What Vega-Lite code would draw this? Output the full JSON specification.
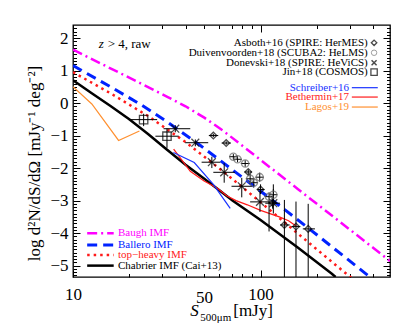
{
  "$schema": "https://vega.github.io/schema/vega-lite/v6.json",
  "width": 317,
  "height": 252,
  "autosize": "none",
  "padding": {"left": 73, "top": 25, "right": 17, "bottom": 49},
  "background": "white",
  "view": {"stroke": "black", "strokeWidth": 1.3},
  "config": {
    "axis": {"domain": false, "grid": false, "tickColor": "black", "tickWidth": 1, "labelFont": "Liberation Serif", "labelFontSize": 17, "labelColor": "black", "titleFont": "Liberation Serif", "titleFontSize": 17, "titleFontWeight": "normal", "titleColor": "black", "labelOverlap": false, "labelFlush": false},
    "text": {"font": "Liberation Serif", "fontSize": 11}
  },
  "datasets": {
    "curves": [
      {"m": "Baugh", "S": 10, "v": 1.64}, {"m": "Baugh", "S": 19.95, "v": 0.78}, {"m": "Baugh", "S": 31.62, "v": 0.2}, {"m": "Baugh", "S": 39.81, "v": -0.1}, {"m": "Baugh", "S": 50.12, "v": -0.45}, {"m": "Baugh", "S": 63.1, "v": -0.85}, {"m": "Baugh", "S": 79.43, "v": -1.3}, {"m": "Baugh", "S": 100, "v": -1.75}, {"m": "Baugh", "S": 125.9, "v": -2.2}, {"m": "Baugh", "S": 158.5, "v": -2.65}, {"m": "Baugh", "S": 199.5, "v": -3.1}, {"m": "Baugh", "S": 251.2, "v": -3.55}, {"m": "Baugh", "S": 316.2, "v": -4.0}, {"m": "Baugh", "S": 398.1, "v": -4.45}, {"m": "Baugh", "S": 490, "v": -4.86},
      {"m": "Ballero", "S": 10, "v": 1.15}, {"m": "Ballero", "S": 15.85, "v": 0.5}, {"m": "Ballero", "S": 22.9, "v": -0.04}, {"m": "Ballero", "S": 31.62, "v": -0.57}, {"m": "Ballero", "S": 47.6, "v": -1.3}, {"m": "Ballero", "S": 79.4, "v": -2.27}, {"m": "Ballero", "S": 125.9, "v": -3.15}, {"m": "Ballero", "S": 199.5, "v": -4.05}, {"m": "Ballero", "S": 281.8, "v": -4.74}, {"m": "Ballero", "S": 389, "v": -5.38},
      {"m": "TopHeavy", "S": 10, "v": 0.95}, {"m": "TopHeavy", "S": 15.85, "v": 0.3}, {"m": "TopHeavy", "S": 25.12, "v": -0.4}, {"m": "TopHeavy", "S": 39.81, "v": -1.2}, {"m": "TopHeavy", "S": 63.1, "v": -2.1}, {"m": "TopHeavy", "S": 100, "v": -3.05}, {"m": "TopHeavy", "S": 158.5, "v": -4.02}, {"m": "TopHeavy", "S": 251.2, "v": -4.98}, {"m": "TopHeavy", "S": 316.2, "v": -5.45},
      {"m": "Chabrier", "S": 10, "v": 0.7}, {"m": "Chabrier", "S": 12.59, "v": 0.3}, {"m": "Chabrier", "S": 15.85, "v": -0.09}, {"m": "Chabrier", "S": 19.95, "v": -0.5}, {"m": "Chabrier", "S": 25.12, "v": -0.95}, {"m": "Chabrier", "S": 31.62, "v": -1.43}, {"m": "Chabrier", "S": 39.81, "v": -1.9}, {"m": "Chabrier", "S": 50.12, "v": -2.33}, {"m": "Chabrier", "S": 60.26, "v": -2.68}, {"m": "Chabrier", "S": 70.8, "v": -3.0}, {"m": "Chabrier", "S": 100, "v": -3.6}, {"m": "Chabrier", "S": 158.5, "v": -4.45}, {"m": "Chabrier", "S": 239.9, "v": -5.25}, {"m": "Chabrier", "S": 251.2, "v": -5.35},
      {"m": "Bethermin", "S": 34.4, "v": -1.42}, {"m": "Bethermin", "S": 38, "v": -1.75}, {"m": "Bethermin", "S": 42.2, "v": -2.1}, {"m": "Bethermin", "S": 50, "v": -2.4}, {"m": "Bethermin", "S": 58.9, "v": -2.62}, {"m": "Bethermin", "S": 66, "v": -2.85}, {"m": "Bethermin", "S": 74, "v": -3.0}, {"m": "Bethermin", "S": 85, "v": -3.13}, {"m": "Bethermin", "S": 100, "v": -3.3}, {"m": "Bethermin", "S": 125.9, "v": -3.5}, {"m": "Bethermin", "S": 141, "v": -3.62}, {"m": "Bethermin", "S": 156, "v": -3.8},
      {"m": "Schreiber", "S": 34.3, "v": -1.52}, {"m": "Schreiber", "S": 44.3, "v": -1.83}, {"m": "Schreiber", "S": 56, "v": -2.5}, {"m": "Schreiber", "S": 68.9, "v": -3.24},
      {"m": "Lagos", "S": 10, "v": 0.5}, {"m": "Lagos", "S": 12.6, "v": -0.03}, {"m": "Lagos", "S": 17.5, "v": -1.15}, {"m": "Lagos", "S": 22.6, "v": -0.86}
    ],
    "pts": [
      {"src": "Jin", "S": 23.8, "v": -0.51, "xlo": 19.8, "xhi": 28.1, "ylo": -0.71, "yhi": -0.33},
      {"src": "Jin", "S": 31.7, "v": -1.02, "xlo": 27.5, "xhi": 36.6, "ylo": -1.38, "yhi": -0.78},
      {"src": "Donevski", "S": 35.1, "v": -0.79, "xlo": 30.4, "xhi": 42.2, "ylo": -0.9, "yhi": -0.68},
      {"src": "Donevski", "S": 44.9, "v": -1.22, "xlo": 39.6, "xhi": 52.6, "ylo": -1.33, "yhi": -1.12},
      {"src": "Donevski", "S": 55, "v": -1.82, "xlo": 48.5, "xhi": 61, "ylo": -2.0, "yhi": -1.65},
      {"src": "Donevski", "S": 64, "v": -2.13, "xlo": 56, "xhi": 73, "ylo": -2.45, "yhi": -1.85},
      {"src": "Donevski", "S": 79.4, "v": -2.56, "xlo": 70, "xhi": 90, "ylo": -2.9, "yhi": -2.3},
      {"src": "Donevski", "S": 99.3, "v": -3.04, "xlo": 88, "xhi": 112, "ylo": -3.35, "yhi": -2.75},
      {"src": "Donevski", "S": 117, "v": -3.08, "xlo": 106, "xhi": 127, "ylo": -3.4, "yhi": -2.5},
      {"src": "Asboth", "S": 56, "v": -1.0, "xlo": 53, "xhi": 59.5, "ylo": -1.05, "yhi": -0.95},
      {"src": "Asboth", "S": 65.6, "v": -1.23, "xlo": 62, "xhi": 69.5, "ylo": -1.28, "yhi": -1.18},
      {"src": "Asboth", "S": 86, "v": -2.12, "xlo": 82, "xhi": 90, "ylo": -2.2, "yhi": -2.04},
      {"src": "Asboth", "S": 100, "v": -2.66, "xlo": 96, "xhi": 105, "ylo": -2.8, "yhi": -2.5},
      {"src": "Asboth", "S": 116, "v": -3.07, "xlo": 110, "xhi": 122, "ylo": -3.25, "yhi": -2.9},
      {"src": "Asboth", "S": 134, "v": -3.75, "xlo": 127, "xhi": 143, "ylo": -5.35, "yhi": -2.98},
      {"src": "Asboth", "S": 154.5, "v": -3.8, "xlo": 146, "xhi": 163, "ylo": -5.35, "yhi": -3.03},
      {"src": "Asboth", "S": 179.5, "v": -3.87, "xlo": 168, "xhi": 195, "ylo": -5.35, "yhi": -3.1},
      {"src": "Duivenvoorden", "S": 71.6, "v": -1.65, "xlo": 68, "xhi": 75.5, "ylo": -1.73, "yhi": -1.57},
      {"src": "Duivenvoorden", "S": 75.4, "v": -1.73, "xlo": 71.5, "xhi": 79.5, "ylo": -1.82, "yhi": -1.64},
      {"src": "Duivenvoorden", "S": 82.8, "v": -1.86, "xlo": 78.5, "xhi": 87.5, "ylo": -1.96, "yhi": -1.76},
      {"src": "Duivenvoorden", "S": 88, "v": -2.33, "xlo": 83.5, "xhi": 92.5, "ylo": -2.48, "yhi": -2.18},
      {"src": "Duivenvoorden", "S": 92, "v": -2.45, "xlo": 87, "xhi": 97, "ylo": -2.6, "yhi": -2.3},
      {"src": "Duivenvoorden", "S": 99, "v": -2.28, "xlo": 94, "xhi": 104, "ylo": -2.42, "yhi": -2.14},
      {"src": "Duivenvoorden", "S": 111, "v": -2.88, "xlo": 105, "xhi": 117, "ylo": -3.95, "yhi": -2.75},
      {"src": "Duivenvoorden", "S": 117, "v": -2.82, "xlo": 111, "xhi": 123, "ylo": -3.0, "yhi": -2.65}
    ]
  },
  "resolve": {"axis": {"x": "independent", "y": "independent"}},
  "layer": [
    {
      "data": {"name": "curves"},
      "transform": [{"filter": "datum.m == 'Baugh'"}],
      "mark": {"type": "line", "clip": true, "color": "#ff00ff", "strokeWidth": 2.5, "strokeDash": [10, 4, 2, 4]},
      "encoding": {
        "x": {"field": "S", "type": "quantitative", "scale": {"type": "log", "domain": [10, 490], "nice": false},
          "axis": {"orient": "bottom", "values": [10, 20, 30, 40, 50, 60, 70, 80, 90, 100, 200, 300, 400],
            "tickSize": {"condition": {"test": "datum.value == 10 || datum.value == 100", "value": -7}, "value": -3.5},
            "labelExpr": "(datum.value == 10 || datum.value == 50 || datum.value == 100) ? format(datum.value, 'd') : ''",
            "labelPadding": 16, "title": null}},
        "y": {"field": "v", "type": "quantitative", "scale": {"domain": [-5.35, 2.4], "nice": false, "zero": false},
          "axis": {"orient": "left", "values": [-5.3,-5.2,-5.1,-5,-4.9,-4.8,-4.7,-4.6,-4.5,-4.4,-4.3,-4.2,-4.1,-4,-3.9,-3.8,-3.7,-3.6,-3.5,-3.4,-3.3,-3.2,-3.1,-3,-2.9,-2.8,-2.7,-2.6,-2.5,-2.4,-2.3,-2.2,-2.1,-2,-1.9,-1.8,-1.7,-1.6,-1.5,-1.4,-1.3,-1.2,-1.1,-1,-0.9,-0.8,-0.7,-0.6,-0.5,-0.4,-0.3,-0.2,-0.1,0,0.1,0.2,0.3,0.4,0.5,0.6,0.7,0.8,0.9,1,1.1,1.2,1.3,1.4,1.5,1.6,1.7,1.8,1.9,2,2.1,2.2,2.3],
            "tickSize": {"condition": {"test": "abs(datum.value - round(datum.value)) < 0.001", "value": -7}, "value": -3.5},
            "labelExpr": "abs(datum.value - round(datum.value)) < 0.001 ? format(datum.value, 'd') : ''",
            "labelPadding": 12, "title": "log d²N/dS/dΩ [mJy⁻¹ deg⁻²]", "titlePadding": 6, "titleY": 138}}
      }
    },
    {
      "data": {"name": "curves"},
      "transform": [{"filter": "datum.m == 'Ballero'"}],
      "mark": {"type": "line", "clip": true, "color": "#0022ff", "strokeWidth": 3, "strokeDash": [10, 6]},
      "encoding": {
        "x": {"field": "S", "type": "quantitative",
          "axis": {"orient": "top", "values": [10, 20, 30, 40, 50, 60, 70, 80, 90, 100, 200, 300, 400],
            "tickSize": {"condition": {"test": "datum.value == 10 || datum.value == 100", "value": -7}, "value": -3.5},
            "labels": false, "title": null}},
        "y": {"field": "v", "type": "quantitative",
          "axis": {"orient": "right", "values": [-5.3,-5.2,-5.1,-5,-4.9,-4.8,-4.7,-4.6,-4.5,-4.4,-4.3,-4.2,-4.1,-4,-3.9,-3.8,-3.7,-3.6,-3.5,-3.4,-3.3,-3.2,-3.1,-3,-2.9,-2.8,-2.7,-2.6,-2.5,-2.4,-2.3,-2.2,-2.1,-2,-1.9,-1.8,-1.7,-1.6,-1.5,-1.4,-1.3,-1.2,-1.1,-1,-0.9,-0.8,-0.7,-0.6,-0.5,-0.4,-0.3,-0.2,-0.1,0,0.1,0.2,0.3,0.4,0.5,0.6,0.7,0.8,0.9,1,1.1,1.2,1.3,1.4,1.5,1.6,1.7,1.8,1.9,2,2.1,2.2,2.3],
            "tickSize": {"condition": {"test": "abs(datum.value - round(datum.value)) < 0.001", "value": -7}, "value": -3.5},
            "labels": false, "title": null}}
      }
    },
    {
      "data": {"name": "curves"},
      "transform": [{"filter": "datum.m == 'TopHeavy'"}],
      "mark": {"type": "line", "clip": true, "color": "#ff1a1a", "strokeWidth": 2.5, "strokeDash": [2.5, 4]},
      "encoding": {"x": {"field": "S", "type": "quantitative", "axis": null}, "y": {"field": "v", "type": "quantitative", "axis": null}}
    },
    {
      "data": {"name": "curves"},
      "transform": [{"filter": "datum.m == 'Chabrier'"}],
      "mark": {"type": "line", "clip": true, "color": "black", "strokeWidth": 2.5},
      "encoding": {"x": {"field": "S", "type": "quantitative", "axis": null}, "y": {"field": "v", "type": "quantitative", "axis": null}}
    },
    {
      "data": {"name": "curves"},
      "transform": [{"filter": "datum.m == 'Bethermin'"}],
      "mark": {"type": "line", "clip": true, "color": "#ff1a1a", "strokeWidth": 1.2},
      "encoding": {"x": {"field": "S", "type": "quantitative", "axis": null}, "y": {"field": "v", "type": "quantitative", "axis": null}}
    },
    {
      "data": {"name": "curves"},
      "transform": [{"filter": "datum.m == 'Schreiber'"}],
      "mark": {"type": "line", "clip": true, "color": "#1a33ff", "strokeWidth": 1.2},
      "encoding": {"x": {"field": "S", "type": "quantitative", "axis": null}, "y": {"field": "v", "type": "quantitative", "axis": null}}
    },
    {
      "data": {"name": "curves"},
      "transform": [{"filter": "datum.m == 'Lagos'"}],
      "mark": {"type": "line", "clip": true, "color": "#ff9030", "strokeWidth": 1.2},
      "encoding": {"x": {"field": "S", "type": "quantitative", "axis": null}, "y": {"field": "v", "type": "quantitative", "axis": null}}
    },
    {
      "data": {"name": "pts"},
      "mark": {"type": "rule", "clip": true, "color": "black", "strokeWidth": 1},
      "encoding": {"x": {"field": "S", "type": "quantitative", "axis": null}, "y": {"field": "ylo", "type": "quantitative", "axis": null}, "y2": {"field": "yhi"}}
    },
    {
      "data": {"name": "pts"},
      "mark": {"type": "rule", "clip": true, "color": "black", "strokeWidth": 1},
      "encoding": {"x": {"field": "xlo", "type": "quantitative", "axis": null}, "x2": {"field": "xhi"}, "y": {"field": "v", "type": "quantitative", "axis": null}}
    },
    {
      "data": {"name": "pts"},
      "mark": {"type": "point", "filled": false, "strokeWidth": 1.3},
      "encoding": {
        "x": {"field": "S", "type": "quantitative", "axis": null},
        "y": {"field": "v", "type": "quantitative", "axis": null},
        "shape": {"field": "src", "type": "nominal", "scale": {"domain": ["Asboth", "Duivenvoorden", "Donevski", "Jin"], "range": ["diamond", "circle", "M-1,-1L1,1M-1,1L1,-1", "square"]}, "legend": null},
        "color": {"field": "src", "type": "nominal", "scale": {"domain": ["Asboth", "Duivenvoorden", "Donevski", "Jin"], "range": ["black", "#666666", "black", "black"]}, "legend": null},
        "size": {"field": "src", "type": "nominal", "scale": {"domain": ["Asboth", "Duivenvoorden", "Donevski", "Jin"], "range": [45, 70, 55, 90]}, "legend": null}
      }
    },
    {"data": {"values": [{}]}, "mark": {"type": "text", "align": "left", "baseline": "middle", "fontSize": 13, "fontStyle": "italic"}, "encoding": {"x": {"datum": 13.7, "axis": null}, "y": {"datum": 1.82, "axis": null}, "text": {"value": "z"}}},
    {"data": {"values": [{}]}, "mark": {"type": "text", "align": "left", "baseline": "middle", "fontSize": 13}, "encoding": {"x": {"datum": 15.3, "axis": null}, "y": {"datum": 1.82, "axis": null}, "text": {"value": "> 4, raw"}}},
    {"data": {"values": [{}]}, "mark": {"type": "text", "align": "right", "baseline": "middle"}, "encoding": {"x": {"datum": 373, "axis": null}, "y": {"datum": 1.853, "axis": null}, "text": {"value": "Asboth+16 (SPIRE: HerMES)"}}},
    {"data": {"values": [{}]}, "mark": {"type": "text", "align": "right", "baseline": "middle"}, "encoding": {"x": {"datum": 373, "axis": null}, "y": {"datum": 1.546, "axis": null}, "text": {"value": "Duivenvoorden+18 (SCUBA2: HeLMS)"}}},
    {"data": {"values": [{}]}, "mark": {"type": "text", "align": "right", "baseline": "middle"}, "encoding": {"x": {"datum": 373, "axis": null}, "y": {"datum": 1.239, "axis": null}, "text": {"value": "Donevski+18 (SPIRE: HeViCS)"}}},
    {"data": {"values": [{}]}, "mark": {"type": "text", "align": "right", "baseline": "middle"}, "encoding": {"x": {"datum": 373, "axis": null}, "y": {"datum": 0.951, "axis": null}, "text": {"value": "Jin+18 (COSMOS)"}}},
    {"data": {"values": [{}]}, "mark": {"type": "point", "shape": "diamond", "filled": false, "color": "black", "size": 30, "strokeWidth": 1.3}, "encoding": {"x": {"datum": 403, "axis": null}, "y": {"datum": 1.853, "axis": null}}},
    {"data": {"values": [{}]}, "mark": {"type": "point", "shape": "circle", "filled": false, "color": "#777777", "size": 30, "strokeWidth": 1}, "encoding": {"x": {"datum": 403, "axis": null}, "y": {"datum": 1.546, "axis": null}}},
    {"data": {"values": [{}]}, "mark": {"type": "point", "shape": "M-1,-1L1,1M-1,1L1,-1", "filled": false, "color": "black", "size": 25, "strokeWidth": 1.5}, "encoding": {"x": {"datum": 403, "axis": null}, "y": {"datum": 1.239, "axis": null}}},
    {"data": {"values": [{}]}, "mark": {"type": "point", "shape": "square", "filled": false, "color": "black", "size": 40, "strokeWidth": 1.3}, "encoding": {"x": {"datum": 403, "axis": null}, "y": {"datum": 0.951, "axis": null}}},
    {"data": {"values": [{}]}, "mark": {"type": "text", "align": "right", "baseline": "middle", "color": "#1a33ff"}, "encoding": {"x": {"datum": 296.6, "axis": null}, "y": {"datum": 0.472, "axis": null}, "text": {"value": "Schreiber+16"}}},
    {"data": {"values": [{}]}, "mark": {"type": "text", "align": "right", "baseline": "middle", "color": "#ff1a1a"}, "encoding": {"x": {"datum": 296.6, "axis": null}, "y": {"datum": 0.184, "axis": null}, "text": {"value": "Bethermin+17"}}},
    {"data": {"values": [{}]}, "mark": {"type": "text", "align": "right", "baseline": "middle", "color": "#ff9030"}, "encoding": {"x": {"datum": 296.6, "axis": null}, "y": {"datum": -0.123, "axis": null}, "text": {"value": "Lagos+19"}}},
    {"data": {"values": [{}]}, "mark": {"type": "rule", "color": "#1a33ff", "strokeWidth": 1.2}, "encoding": {"x": {"datum": 306.7, "axis": null}, "x2": {"datum": 421.7}, "y": {"datum": 0.472, "axis": null}}},
    {"data": {"values": [{}]}, "mark": {"type": "rule", "color": "#ff1a1a", "strokeWidth": 1.2}, "encoding": {"x": {"datum": 306.7, "axis": null}, "x2": {"datum": 421.7}, "y": {"datum": 0.184, "axis": null}}},
    {"data": {"values": [{}]}, "mark": {"type": "rule", "color": "#ff9030", "strokeWidth": 1.2}, "encoding": {"x": {"datum": 306.7, "axis": null}, "x2": {"datum": 421.7}, "y": {"datum": -0.123, "axis": null}}},
    {"data": {"values": [{}]}, "mark": {"type": "rule", "color": "#ff00ff", "strokeWidth": 2.5, "strokeDash": [10, 4, 2, 4]}, "encoding": {"x": {"datum": 11.9, "axis": null}, "x2": {"datum": 16.48}, "y": {"datum": -4.006, "axis": null}}},
    {"data": {"values": [{}]}, "mark": {"type": "rule", "color": "#0022ff", "strokeWidth": 3, "strokeDash": [10, 6]}, "encoding": {"x": {"datum": 11.9, "axis": null}, "x2": {"datum": 16.48}, "y": {"datum": -4.365, "axis": null}}},
    {"data": {"values": [{}]}, "mark": {"type": "rule", "color": "#ff1a1a", "strokeWidth": 2.5, "strokeDash": [2.5, 4]}, "encoding": {"x": {"datum": 11.9, "axis": null}, "x2": {"datum": 16.48}, "y": {"datum": -4.67, "axis": null}}},
    {"data": {"values": [{}]}, "mark": {"type": "rule", "color": "black", "strokeWidth": 2.5}, "encoding": {"x": {"datum": 11.9, "axis": null}, "x2": {"datum": 16.48}, "y": {"datum": -5.0, "axis": null}}},
    {"data": {"values": [{}]}, "mark": {"type": "text", "align": "left", "baseline": "middle", "color": "#ff00ff"}, "encoding": {"x": {"datum": 17.38, "axis": null}, "y": {"datum": -4.006, "axis": null}, "text": {"value": "Baugh IMF"}}},
    {"data": {"values": [{}]}, "mark": {"type": "text", "align": "left", "baseline": "middle", "color": "#0022ff"}, "encoding": {"x": {"datum": 17.38, "axis": null}, "y": {"datum": -4.365, "axis": null}, "text": {"value": "Ballero IMF"}}},
    {"data": {"values": [{}]}, "mark": {"type": "text", "align": "left", "baseline": "middle", "color": "#ff1a1a"}, "encoding": {"x": {"datum": 17.38, "axis": null}, "y": {"datum": -4.67, "axis": null}, "text": {"value": "top−heavy IMF"}}},
    {"data": {"values": [{}]}, "mark": {"type": "text", "align": "left", "baseline": "middle", "color": "black"}, "encoding": {"x": {"datum": 17.38, "axis": null}, "y": {"datum": -5.0, "axis": null}, "text": {"value": "Chabrier IMF (Cai+13)"}}},
    {"data": {"values": [{}]}, "mark": {"type": "text", "align": "left", "baseline": "middle", "fontSize": 17, "fontStyle": "italic"}, "encoding": {"x": {"datum": 42.2, "axis": null}, "y": {"datum": -6.4, "axis": null}, "text": {"value": "S"}}},
    {"data": {"values": [{}]}, "mark": {"type": "text", "align": "left", "baseline": "middle", "fontSize": 11}, "encoding": {"x": {"datum": 47.7, "axis": null}, "y": {"datum": -6.6, "axis": null}, "text": {"value": "500μm"}}},
    {"data": {"values": [{}]}, "mark": {"type": "text", "align": "left", "baseline": "middle", "fontSize": 17}, "encoding": {"x": {"datum": 71.5, "axis": null}, "y": {"datum": -6.4, "axis": null}, "text": {"value": "[mJy]"}}}
  ]
}
